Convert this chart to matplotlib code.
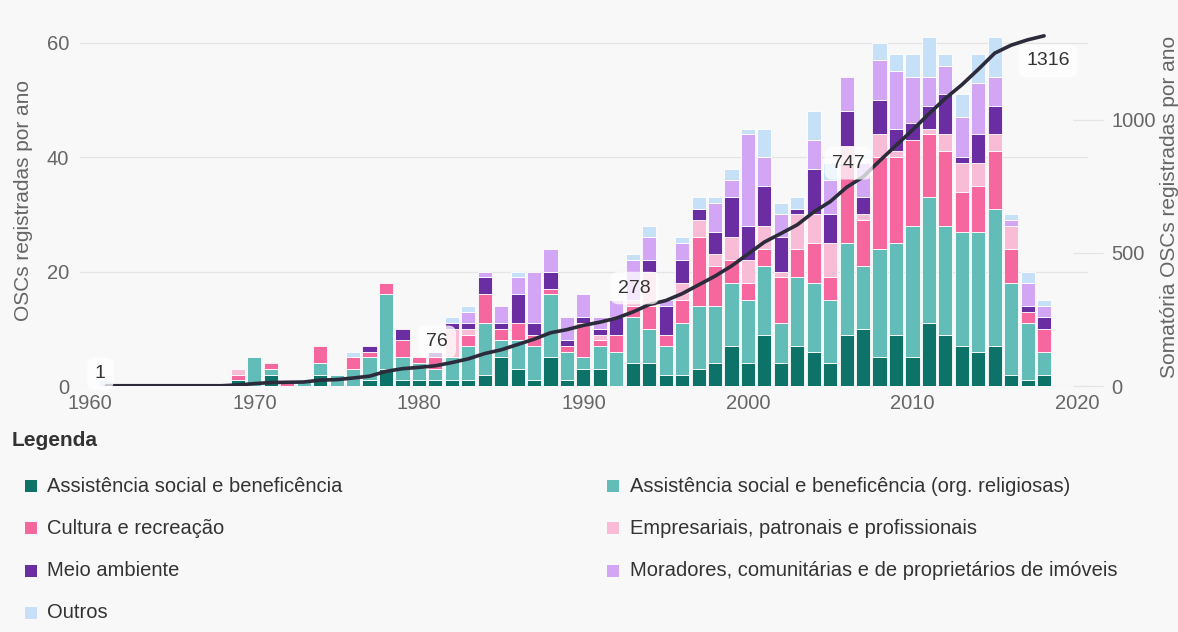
import numpy as np
import matplotlib
matplotlib.use("Agg")
import matplotlib.pyplot as plt
from matplotlib.patches import Rectangle

plt.rcParams['font.family'] = ['Liberation Sans', 'DejaVu Sans']

years = list(range(1961, 2019))

# values per year 1961..2018 (grouped: 1961-1968, 1969-1978, 1979-1988, 1989-1998, 1999-2008, 2009-2018)
assistencia = [0, 0, 0, 0, 0, 0, 0, 0,
               1, 0, 2, 0, 0, 2, 0, 0, 1, 3,
               1, 1, 1, 1, 1, 2, 5, 3, 1, 5,
               1, 3, 3, 0, 4, 4, 2, 2, 3, 4,
               7, 4, 9, 4, 7, 6, 4, 9, 10, 5,
               9, 5, 11, 9, 7, 6, 7, 2, 1, 2]
religiosas = [0, 0, 0, 0, 0, 0, 0, 0,
              0, 5, 1, 0, 1, 2, 2, 3, 4, 13,
              4, 3, 2, 4, 6, 9, 3, 5, 6, 11,
              5, 2, 4, 6, 8, 6, 5, 9, 11, 10,
              11, 11, 12, 7, 12, 12, 11, 16, 11, 19,
              16, 23, 22, 19, 20, 21, 24, 16, 10, 4]
cultura = [0, 0, 0, 0, 0, 0, 0, 0,
           1, 0, 1, 1, 0, 3, 0, 2, 1, 2,
           3, 1, 2, 0, 2, 5, 2, 3, 2, 1,
           1, 6, 1, 3, 2, 4, 2, 4, 12, 7,
           4, 3, 3, 8, 5, 7, 4, 14, 8, 16,
           15, 15, 11, 13, 7, 8, 10, 6, 2, 4]
empresariais = [0, 0, 0, 0, 0, 0, 0, 0,
                1, 0, 0, 0, 0, 0, 0, 0, 0, 0,
                0, 0, 0, 5, 1, 0, 0, 0, 0, 0,
                0, 0, 1, 0, 1, 6, 0, 3, 3, 2,
                4, 4, 4, 1, 6, 5, 6, 3, 1, 4,
                1, 0, 1, 3, 5, 4, 3, 4, 0, 0]
meio_ambiente = [0, 0, 0, 0, 0, 0, 0, 0,
                 0, 0, 0, 0, 0, 0, 0, 0, 1, 0,
                 2, 0, 1, 1, 1, 3, 1, 5, 2, 3,
                 1, 1, 1, 3, 0, 2, 5, 4, 2, 4,
                 7, 6, 7, 6, 1, 8, 5, 6, 3, 6,
                 4, 3, 4, 7, 1, 5, 5, 0, 1, 2]
moradores = [0, 0, 0, 0, 0, 0, 0, 0,
             0, 0, 0, 0, 0, 0, 0, 0, 0, 0,
             0, 0, 0, 0, 2, 1, 3, 3, 9, 4,
             4, 4, 2, 3, 7, 4, 1, 3, 0, 5,
             3, 16, 5, 4, 0, 5, 6, 6, 6, 7,
             10, 8, 5, 5, 7, 9, 5, 1, 4, 2]
outros = [1, 0, 0, 0, 0, 0, 0, 0,
          0, 0, 0, 0, 0, 0, 0, 1, 0, 0,
          0, 0, 0, 1, 1, 0, 0, 1, 0, 0,
          0, 0, 0, 0, 1, 2, 0, 1, 2, 1,
          2, 1, 5, 2, 2, 5, 3, 0, 0, 3,
          3, 4, 7, 2, 4, 5, 7, 1, 2, 1]

series_names = ["Assistência social e beneficência",
                "Assistência social e beneficência (org. religiosas)",
                "Cultura e recreação",
                "Empresariais, patronais e profissionais",
                "Meio ambiente",
                "Moradores, comunitárias e de proprietários de imóveis",
                "Outros"]
label_years = [1961, 1981, 1993, 2006, 2018]

series = [assistencia, religiosas, cultura, empresariais, meio_ambiente, moradores, outros]
colors = ['#0d7268', '#62bcb8', '#f7679f', '#f8bcd6', '#6a2ea2', '#d2a6f4', '#c5e0f7']

W, H = 1178, 632
bg = '#f8f8f8'
fig = plt.figure(figsize=(W / 100, H / 100), dpi=100, facecolor=bg)
ax = fig.add_axes([80 / W, 1 - 386 / H, 1008 / W, 356 / H])
ax.set_facecolor('none')

yrs = np.array(years)
bottom = np.zeros(len(years))
for vals, col in zip(series, colors):
    v = np.array(vals, dtype=float)
    m = v > 0
    ax.bar(yrs[m], v[m], bottom=bottom[m], width=0.86, color=col,
           edgecolor='white', linewidth=0.6, zorder=2)
    bottom += v

ax.set_xlim(1959.4, 2020.67)
ax.set_ylim(0, 62.24)
ax.set_yticks([0, 20, 40, 60])
ax.set_xticks(range(1960, 2021, 10))
ax.grid(axis='y', color='#e4e4e4', linewidth=0.9, zorder=0)
ax.set_axisbelow(True)
for s in ax.spines.values():
    s.set_visible(False)
ax.tick_params(axis='both', length=0, labelsize=14.5, labelcolor='#666666')
ax.tick_params(axis='y', pad=8)
ax.tick_params(axis='x', pad=6)
ax.set_ylabel("OSCs registradas por ano", fontsize=15, color='#666666')
ax.yaxis.set_label_coords(-0.047, 0.52)

cum = np.cumsum(bottom)
ax2 = ax.twinx()
ax2.set_ylim(0, 1338)
ax2.set_yticks([0, 500, 1000])
for s in ax2.spines.values():
    s.set_visible(False)
ax2.tick_params(axis='y', direction='inout', length=22, color='#e4e4e4', width=0.9,
                labelsize=14.5, labelcolor='#666666', pad=6)
ax2.plot(yrs, cum, color='#2b2b3b', linewidth=2.6, solid_capstyle='round', zorder=3)
ax2.set_ylabel("Somatória OSCs registradas por ano", fontsize=15, color='#666666')
ax2.yaxis.set_label_coords(1.071, 0.503)

offsets = {1961: (-6, 12), 1981: (2, 24), 1993: (2, 24), 2006: (2, 24), 2018: (4, -25)}
for y in label_years:
    i = years.index(y)
    ax2.annotate(f"{int(cum[i])}", xy=(y, cum[i]), xytext=offsets[y],
                 textcoords='offset pixels', ha='center', va='center',
                 fontsize=14, color='#333333', zorder=5,
                 bbox=dict(boxstyle='round,pad=0.4', fc='white', ec='none', alpha=0.75))

# legend
fig.text(12 / W, 1 - 441 / H, "Legenda", fontsize=15, fontweight='bold',
         color='#333333', va='center', ha='left')
rows_y = [486, 528, 571, 613]
mark_x = [25, 607]
text_x = [47, 630]
for k, (name, col) in enumerate(zip(series_names, colors)):
    r, c = k // 2, k % 2
    yc = rows_y[r]
    fig.add_artist(Rectangle((mark_x[c] / W, 1 - (yc + 6) / H), 12 / W, 12 / H,
                             transform=fig.transFigure, facecolor=col, edgecolor='none'))
    fig.text(text_x[c] / W, 1 - yc / H, name, fontsize=14.5, color='#333333',
             va='center', ha='left')

fig.savefig("out.png", dpi=100, facecolor=bg)
